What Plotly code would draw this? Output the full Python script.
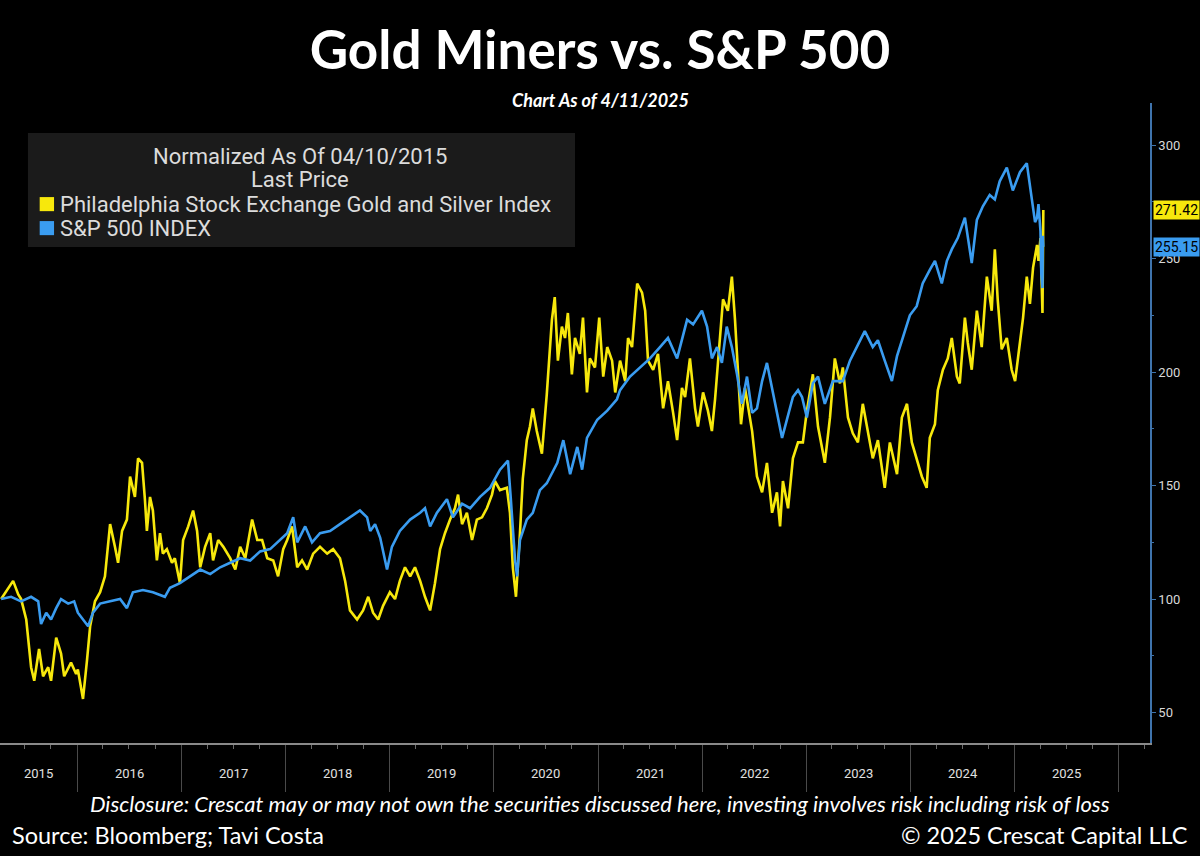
import plotly.graph_objects as go

# Philadelphia Stock Exchange Gold and Silver Index, normalized to 100 on 04/10/2015
gold_dates = [
    "2015-04-10", "2015-05-01", "2015-05-22", "2015-06-09", "2015-06-19", "2015-07-07", "2015-07-24",
    "2015-08-04", "2015-08-21", "2015-09-04", "2015-09-22", "2015-10-02", "2015-10-20", "2015-11-06",
    "2015-11-17", "2015-12-11", "2015-12-29",
    "2016-01-04", "2016-01-22", "2016-02-05", "2016-02-16", "2016-03-04", "2016-03-22", "2016-04-08",
    "2016-04-26", "2016-05-13", "2016-05-24", "2016-06-07", "2016-06-24", "2016-07-05", "2016-07-22",
    "2016-08-02", "2016-08-16", "2016-08-26", "2016-09-02", "2016-09-13", "2016-09-23", "2016-10-07",
    "2016-10-18", "2016-10-28", "2016-11-11", "2016-11-29", "2016-12-09", "2016-12-27",
    "2017-01-07", "2017-01-25", "2017-02-11", "2017-02-25", "2017-03-08", "2017-03-25", "2017-04-12",
    "2017-04-22", "2017-05-10", "2017-05-28", "2017-06-21", "2017-07-09", "2017-07-26", "2017-08-13",
    "2017-09-06", "2017-09-24", "2017-10-11", "2017-10-29", "2017-11-19", "2017-12-06", "2017-12-24",
    "2018-01-07", "2018-01-24", "2018-02-11", "2018-02-28", "2018-03-18", "2018-04-08", "2018-05-02",
    "2018-05-27", "2018-06-17", "2018-07-11", "2018-07-29", "2018-08-15", "2018-09-09", "2018-09-30",
    "2018-10-18", "2018-11-04", "2018-11-22", "2018-12-09",
    "2019-01-02", "2019-01-20", "2019-02-06", "2019-02-24", "2019-03-14", "2019-03-31", "2019-04-18",
    "2019-05-05", "2019-05-23", "2019-06-09", "2019-06-27", "2019-07-14", "2019-08-01", "2019-08-18",
    "2019-08-29", "2019-09-12", "2019-09-29", "2019-10-17", "2019-11-03", "2019-11-21", "2019-12-08",
    "2019-12-26",
    "2020-01-05", "2020-01-23", "2020-02-16", "2020-02-27", "2020-03-08", "2020-03-19", "2020-04-02",
    "2020-04-12", "2020-04-26", "2020-05-07", "2020-05-17", "2020-05-31", "2020-06-18", "2020-07-05",
    "2020-07-23", "2020-08-02", "2020-08-13", "2020-08-27", "2020-09-07", "2020-09-17", "2020-10-01",
    "2020-10-12", "2020-10-29", "2020-11-09", "2020-11-23", "2020-12-03", "2020-12-21",
    "2021-01-05", "2021-01-19", "2021-02-02", "2021-02-19", "2021-03-02", "2021-03-19", "2021-04-06",
    "2021-04-16", "2021-04-30", "2021-05-18", "2021-06-04", "2021-06-15", "2021-06-25", "2021-07-13",
    "2021-07-30", "2021-08-17", "2021-09-03", "2021-09-21", "2021-10-05", "2021-10-22", "2021-11-02",
    "2021-11-19", "2021-12-07", "2021-12-17",
    "2022-01-04", "2022-01-21", "2022-02-04", "2022-02-15", "2022-03-04", "2022-03-15", "2022-04-01",
    "2022-04-15", "2022-04-26", "2022-05-06", "2022-05-17", "2022-05-31", "2022-06-11", "2022-06-25",
    "2022-07-12", "2022-07-30", "2022-08-16", "2022-09-03", "2022-09-20", "2022-10-01", "2022-10-11",
    "2022-10-29", "2022-11-15", "2022-12-03", "2022-12-20",
    "2023-01-03", "2023-01-24", "2023-02-11", "2023-03-07", "2023-03-25", "2023-04-11", "2023-04-29",
    "2023-05-09", "2023-05-27", "2023-06-13", "2023-07-01", "2023-07-18", "2023-08-05", "2023-08-22",
    "2023-09-09", "2023-10-03", "2023-10-21", "2023-11-15", "2023-12-02", "2023-12-20",
    "2024-01-06", "2024-01-23", "2024-02-10", "2024-02-27", "2024-03-09", "2024-03-27", "2024-04-06",
    "2024-04-24", "2024-05-11", "2024-05-25", "2024-06-12", "2024-06-22", "2024-07-10", "2024-07-20",
    "2024-08-03", "2024-08-21", "2024-09-07", "2024-09-25", "2024-10-12", "2024-10-23", "2024-11-02",
    "2024-11-16", "2024-12-04", "2024-12-21",
    "2025-01-02", "2025-01-19", "2025-01-30", "2025-02-12", "2025-02-23", "2025-03-06", "2025-03-20",
    "2025-03-25", "2025-04-01", "2025-04-08", "2025-04-11",
]
gold_values = [
    100, 104, 108, 102, 100, 91, 70,
    64, 78, 66, 70, 64, 83, 76,
    66, 72, 67,
    69, 56, 73, 88, 99, 103, 110,
    133, 123, 116, 130, 135, 154, 145,
    162, 160, 144, 130, 145, 139, 117,
    129, 120, 122, 116, 118, 107,
    126, 132, 139, 130, 114, 123, 129,
    117, 126, 123, 118, 113, 123, 118,
    135, 126, 126, 118, 117, 110, 122,
    126, 132, 114, 117, 113, 120, 123,
    120, 122, 118, 108, 95, 91, 95,
    101, 94, 91, 97,
    103, 100, 108, 114, 110, 114, 108,
    101, 95, 107, 122, 129, 135, 140,
    146, 133, 138, 126, 135, 136, 140,
    146,
    152, 148, 149, 138, 114, 101, 129,
    153, 170, 176, 184, 174, 164, 190,
    223, 233, 205, 220, 215, 226, 199,
    215, 208, 224, 191, 206, 202,
    224, 198, 211, 205, 191, 205, 196,
    215, 211, 239, 235, 227, 205, 201,
    208, 184, 196, 182, 170, 193, 189,
    206, 184, 176,
    191, 183, 174, 188, 217, 232, 227,
    242, 223, 202, 177, 193, 184, 174,
    154, 147, 160, 138, 147, 132, 152,
    140, 162, 169, 169,
    183, 199, 176, 160, 180, 206, 195,
    202, 180, 173, 169, 186, 173, 162,
    170, 149, 169, 155, 180, 186,
    169, 162, 154, 149, 171, 177, 192,
    201, 206, 215, 198, 195, 224, 213,
    201, 227, 211, 242, 227, 254, 232,
    210, 215, 201,
    196, 213, 224, 242, 230, 246, 256,
    249, 259, 226, 271.42,
]

# S&P 500 INDEX, normalized to 100 on 04/10/2015
spx_dates = [
    "2015-04-10", "2015-05-15", "2015-06-19", "2015-07-24", "2015-08-18", "2015-08-28", "2015-09-15",
    "2015-10-02", "2015-10-20", "2015-11-06", "2015-12-01", "2015-12-22",
    "2016-01-04", "2016-01-22", "2016-02-09", "2016-02-26", "2016-03-22", "2016-04-26", "2016-05-31",
    "2016-06-24", "2016-07-15", "2016-08-19", "2016-09-23", "2016-11-04", "2016-11-22", "2016-12-27",
    "2017-02-01", "2017-03-08", "2017-04-12", "2017-05-17", "2017-06-21", "2017-07-26", "2017-08-30",
    "2017-10-04", "2017-11-08", "2017-12-13",
    "2018-01-07", "2018-01-28", "2018-02-11", "2018-03-11", "2018-04-04", "2018-05-02", "2018-06-06",
    "2018-07-11", "2018-08-15", "2018-09-19", "2018-10-14", "2018-10-25", "2018-11-11", "2018-11-29",
    "2018-12-23",
    "2019-01-09", "2019-02-06", "2019-03-14", "2019-04-18", "2019-05-05", "2019-05-23", "2019-06-16",
    "2019-07-21", "2019-08-11", "2019-09-12", "2019-10-10", "2019-11-14", "2019-12-19",
    "2020-01-23", "2020-02-20", "2020-03-01", "2020-03-16", "2020-03-23", "2020-04-02", "2020-04-26",
    "2020-05-17", "2020-06-11", "2020-07-05", "2020-08-11", "2020-09-01", "2020-09-25", "2020-10-20",
    "2020-11-06", "2020-11-23", "2020-12-29",
    "2021-02-02", "2021-03-08", "2021-03-19", "2021-04-23", "2021-05-28", "2021-07-02", "2021-08-06",
    "2021-09-03", "2021-10-05", "2021-11-09", "2021-11-30", "2021-12-31",
    "2022-01-18", "2022-02-04", "2022-02-22", "2022-03-11", "2022-03-28", "2022-04-15", "2022-05-03",
    "2022-05-20", "2022-06-07", "2022-06-25", "2022-07-12", "2022-07-30", "2022-08-16", "2022-09-03",
    "2022-09-20", "2022-10-08", "2022-10-25", "2022-11-15", "2022-12-03", "2022-12-17",
    "2023-01-03", "2023-01-24", "2023-02-11", "2023-03-07", "2023-04-04", "2023-05-09", "2023-06-03",
    "2023-06-27", "2023-07-25", "2023-08-22", "2023-09-09", "2023-10-03", "2023-10-28", "2023-11-15",
    "2023-12-06", "2023-12-30",
    "2024-01-23", "2024-02-13", "2024-03-09", "2024-03-27", "2024-04-20", "2024-05-08", "2024-05-25",
    "2024-06-15", "2024-07-10", "2024-08-03", "2024-08-21", "2024-09-11", "2024-10-05", "2024-10-23",
    "2024-11-09", "2024-12-04", "2024-12-25",
    "2025-01-19", "2025-02-12", "2025-03-02", "2025-03-13", "2025-03-20", "2025-03-25", "2025-04-01",
    "2025-04-04", "2025-04-08", "2025-04-09", "2025-04-11",
]
spx_values = [
    100, 101, 99, 101, 99, 89, 94,
    91, 96, 100, 98, 99,
    94, 91, 88, 94, 98, 99, 100,
    96, 103, 104, 103, 101, 105, 107,
    110, 113, 111, 114, 116, 118, 117,
    121, 122, 126,
    129, 136, 125, 132, 125, 129, 130,
    133, 136, 139, 136, 130, 133, 127,
    113,
    123, 130, 135, 138, 140, 132, 138,
    144, 136, 142, 140, 145, 149,
    157, 161, 144, 117, 110, 126, 135,
    138, 148, 151, 160, 170, 155, 167,
    157, 171, 179,
    183, 188, 192, 198, 202, 206, 211,
    215, 206, 223, 221, 227,
    220, 206, 211, 204, 220, 211, 199,
    186, 198, 182, 184, 196, 204, 193,
    182, 171, 179, 189, 192, 189,
    180, 195, 198, 186, 196, 196, 205,
    211, 218, 211, 214, 205, 196, 207,
    215, 225,
    229, 239, 245, 249, 239, 249, 254,
    259, 268, 248, 267, 273, 278, 276,
    284, 290, 280,
    288, 292, 277, 266, 268, 274, 262,
    243, 237, 260, 255.15,
]

series_names = ["Philadelphia Stock Exchange Gold and Silver Index", "S&P 500 INDEX"]
series_colors = ["#f7e80c", "#3a9cf0"]
last_values = [gold_values[-1], spx_values[-1]]

year_labels = [str(y) for y in range(2015, 2026)]
y_ticks = [50, 100, 150, 200, 250, 300]

x_start = "2015-04-06"
x_end = "2026-04-20"

fig = go.Figure()
fig.add_trace(go.Scatter(x=gold_dates, y=gold_values, mode="lines", name=series_names[0],
                         line=dict(color=series_colors[0], width=2.6)))
fig.add_trace(go.Scatter(x=spx_dates, y=spx_values, mode="lines", name=series_names[1],
                         line=dict(color=series_colors[1], width=2.6)))

narrow = "Roboto, Arial"
body = "Lato, Open Sans, sans-serif"
page_mid = 600 / 1150  # page centre in plot-paper units (plot is 1150 px wide)

fig.update_layout(
    width=1200, height=856,
    paper_bgcolor="black", plot_bgcolor="black",
    margin=dict(l=0, r=50, t=103, b=113),
    showlegend=False,
    title=dict(text="<b>Gold Miners vs. S&P 500</b>", x=0.5, xanchor="center",
               y=1 - 50 / 856, yanchor="middle",
               font=dict(family=body, size=53, color="white")),
)

fig.update_xaxes(
    type="date", range=[x_start, x_end],
    showgrid=False, zeroline=False,
    showline=True, linecolor="#8a8a8a", linewidth=2,
    tickvals=[f"{y}-01-01" for y in range(2016, 2027)],
    ticks="outside", ticklen=47, tickcolor="#4a4a4a", tickwidth=1,
    showticklabels=False,
    minor=dict(dtick="M3", tick0="2015-01-01", ticks="outside", ticklen=4, tickcolor="#6a6a6a"),
)

fig.update_yaxes(
    side="right", range=[36.6, 318.5],
    showgrid=False, zeroline=False,
    showline=True, linecolor="#3f74ad", linewidth=1.5,
    tickvals=y_ticks, ticks="outside", ticklen=4, tickcolor="#3f74ad",
    tickfont=dict(family=narrow, size=13, color="#d8d8d8"),
    minor=dict(dtick=25, ticks="outside", ticklen=2, tickcolor="#3f74ad"),
)

# year labels centred in each year band
for lab in year_labels:
    y = int(lab)
    if y == 2015:
        mid = "2015-08-20"
    else:
        mid = f"{y}-07-02"
    fig.add_annotation(x=mid, y=-0.047, xref="x", yref="paper", yanchor="middle", text=lab,
                       showarrow=False, font=dict(family=narrow, size=13, color="#e0e0e0"))

# legend box (Bloomberg style)
legend_font = dict(family="Roboto", size=22, color="#dcdcdc")
fig.add_shape(type="rect", xref="paper", yref="paper", x0=0.0243, x1=0.5, y0=0.775, y1=0.953,
              fillcolor="#1b1b1b", line=dict(width=0), layer="below")
fig.add_annotation(x=0.261, y=0.917, xref="paper", yref="paper", xanchor="center", yanchor="middle",
                   showarrow=False, text="Normalized As Of 04/10/2015", font=legend_font)
fig.add_annotation(x=0.261, y=0.880, xref="paper", yref="paper", xanchor="center", yanchor="middle",
                   showarrow=False, text="Last Price", font=legend_font)
for i, name in enumerate(series_names):
    yc = 0.842 - i * 0.0375
    fig.add_shape(type="rect", xref="paper", yref="paper", x0=0.0345, x1=0.047,
                  y0=yc - 0.011, y1=yc + 0.011, fillcolor=series_colors[i], line=dict(width=0))
    fig.add_annotation(x=0.05, y=yc, xref="paper", yref="paper", xanchor="left", yanchor="middle",
                       showarrow=False, text=name, font=legend_font)

# last value tags on the right axis
for i, v in enumerate(last_values):
    fig.add_annotation(x=1.0, y=v, xref="paper", yref="y", xanchor="left", yanchor="middle", xshift=3,
                       showarrow=False, text=f"{v:.2f}", bgcolor=series_colors[i], borderpad=1,
                       font=dict(family=narrow, size=14, color="black"))

fig.add_annotation(x=page_mid, y=1.005, xref="paper", yref="paper", xanchor="center", yanchor="middle",
                   showarrow=False, text="<b><i>Chart As of 4/11/2025</i></b>",
                   font=dict(family=body, size=18, color="white"))

# footer
fig.add_annotation(x=page_mid, y=-0.094, xref="paper", yref="paper", xanchor="center", yanchor="middle",
                   showarrow=False,
                   text="<i>Disclosure: Crescat may or may not own the securities discussed here, "
                        "investing involves risk including risk of loss</i>",
                   font=dict(family=body, size=22, color="white"))
fig.add_annotation(x=10 / 1150, y=-0.144, xref="paper", yref="paper", xanchor="left", yanchor="middle",
                   showarrow=False, text="Source: Bloomberg; Tavi Costa",
                   font=dict(family=body, size=23.5, color="white"))
fig.add_annotation(x=1190 / 1150, y=-0.144, xref="paper", yref="paper", xanchor="right", yanchor="middle",
                   showarrow=False, text="© 2025 Crescat Capital LLC",
                   font=dict(family=body, size=23.5, color="white"))

fig.write_html("out.html", config={"displayModeBar": False},
               post_script="document.body.style.margin='0';")
